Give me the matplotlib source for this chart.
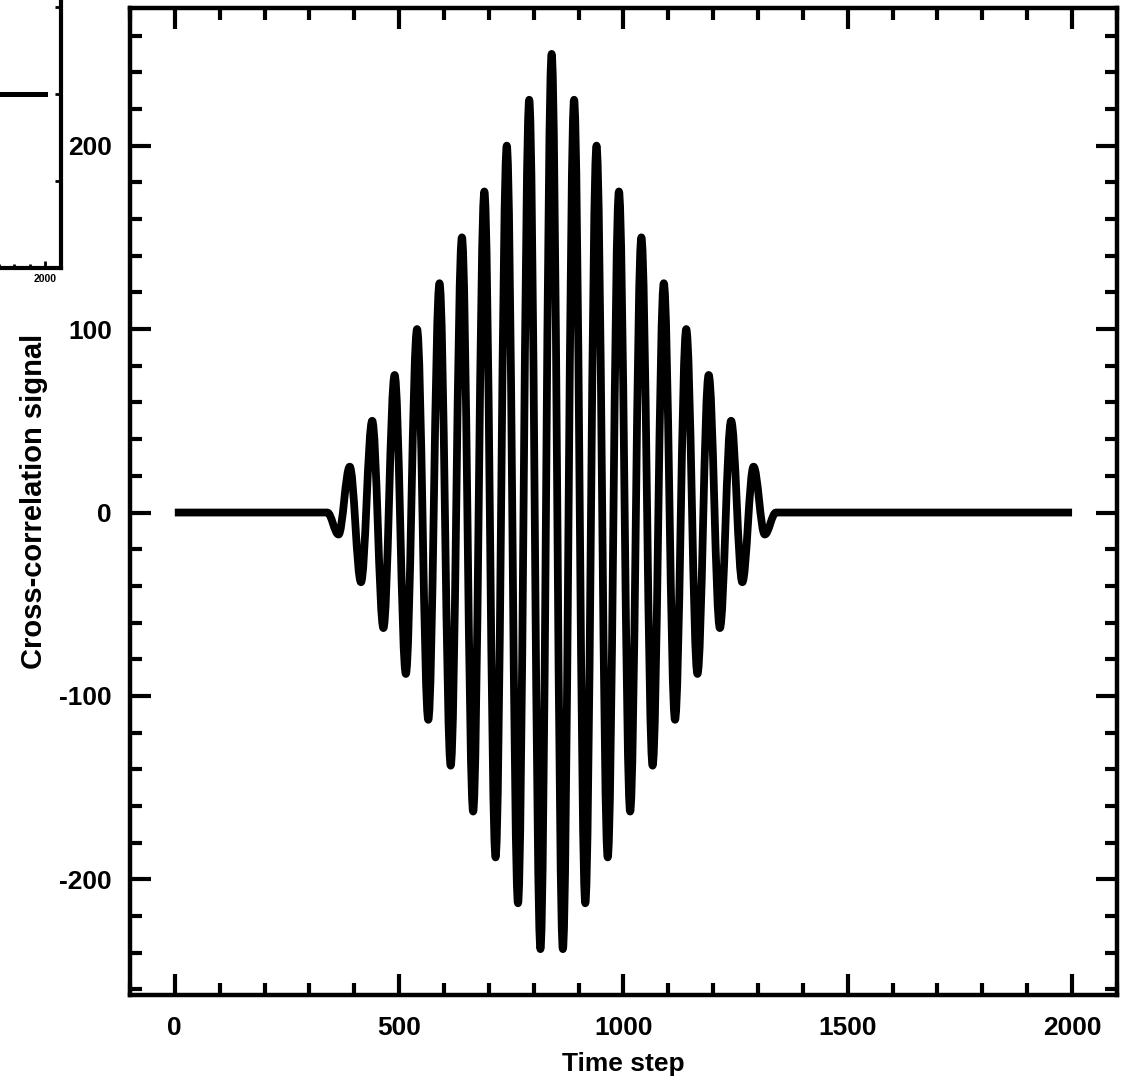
import matplotlib
matplotlib.use('Agg')
import matplotlib.pyplot as plt
from matplotlib.ticker import MultipleLocator, FixedLocator
from matplotlib.path import Path
from matplotlib.patches import PathPatch

plt.rcParams['font.family'] = ['Liberation Sans', 'DejaVu Sans']
plt.rcParams['font.weight'] = 'bold'
plt.rcParams['axes.unicode_minus'] = False

# senal de correlacion cruzada: tramo plano, oscilacion con envolvente triangular, tramo plano
# (maximos y minimos de cada medio ciclo)
tiempo = [0, 340,
          365, 390, 415, 440, 465, 490, 515, 540, 565, 590,
          615, 640, 665, 690, 715, 740, 765, 790, 815, 840,
          865, 890, 915, 940, 965, 990, 1015, 1040, 1065, 1090,
          1115, 1140, 1165, 1190, 1215, 1240, 1265, 1290, 1315,
          1340, 2000]
senal = [0, 0,
         -12, 25, -38, 50, -63, 75, -88, 100, -113, 125,
         -138, 150, -163, 175, -188, 200, -213, 225, -238, 250,
         -238, 225, -213, 200, -188, 175, -163, 150, -138, 125,
         -113, 100, -88, 75, -63, 50, -38, 25, -12,
         0, 0]

# panel vecino (solo se ve su esquina)
tiempo_panel = [0, 2000]
senal_panel = [0, 0]

fig = plt.figure(figsize=(11.29, 10.86), dpi=100)
ax = fig.add_axes([0.1151, 0.0838, 0.8742, 0.9088])

# curva suave entre extremos: tramos rectos al principio y al final,
# curvas de Bezier con tangente horizontal en cada maximo/minimo
c = 0.36
verts = [(tiempo[0], senal[0]), (tiempo[1], senal[1])]
codes = [Path.MOVETO, Path.LINETO]
for i in range(1, len(tiempo) - 2):
    t0, v0 = tiempo[i], senal[i]
    t1, v1 = tiempo[i + 1], senal[i + 1]
    h = t1 - t0
    verts += [(t0 + c * h, v0), (t1 - c * h, v1), (t1, v1)]
    codes += [Path.CURVE4, Path.CURVE4, Path.CURVE4]
verts.append((tiempo[-1], senal[-1]))
codes.append(Path.LINETO)
curva = PathPatch(Path(verts, codes), facecolor='none', edgecolor='black',
                  lw=5.6, joinstyle='round', capstyle='butt')
ax.add_patch(curva)

ax.set_xlim(-100, 2100)
ax.set_ylim(-263, 275)

ax.xaxis.set_major_locator(MultipleLocator(500))
ax.xaxis.set_minor_locator(MultipleLocator(100))
ax.yaxis.set_major_locator(MultipleLocator(100))
ax.yaxis.set_minor_locator(MultipleLocator(20))

for s in ax.spines.values():
    s.set_linewidth(3.2)
ax.tick_params(which='both', direction='in', top=True, right=True, width=3)
ax.tick_params(which='major', length=15)
ax.tick_params(which='minor', length=8.5)
ax.tick_params(axis='x', which='major', pad=15, labelsize=19)
ax.tick_params(axis='y', which='major', pad=13, labelsize=19)

ax.set_xlabel('Time step', fontsize=19, fontweight='bold', labelpad=9)
ax.set_ylabel('Cross-correlation signal', fontsize=21, fontweight='bold', labelpad=8)

# esquina del panel de la izquierda
ax2 = fig.add_axes([-0.248, 0.7532, 0.302, 0.302])
ax2.plot(tiempo_panel, senal_panel, color='black', lw=3.6)
ax2.set_xlim(-100, 2100)
ax2.set_ylim(-200, 177)
ax2.xaxis.set_major_locator(FixedLocator([2000]))
ax2.xaxis.set_minor_locator(MultipleLocator(100))
ax2.yaxis.set_major_locator(MultipleLocator(100))
for s in ax2.spines.values():
    s.set_linewidth(3)
ax2.tick_params(which='both', direction='in', top=True, right=True, width=2)
ax2.tick_params(axis='x', which='major', length=5, labelsize=7.5, pad=4)
ax2.tick_params(axis='x', which='minor', length=3)
ax2.tick_params(axis='y', which='major', length=4, labelleft=False)

plt.savefig('out.png', dpi=100)
